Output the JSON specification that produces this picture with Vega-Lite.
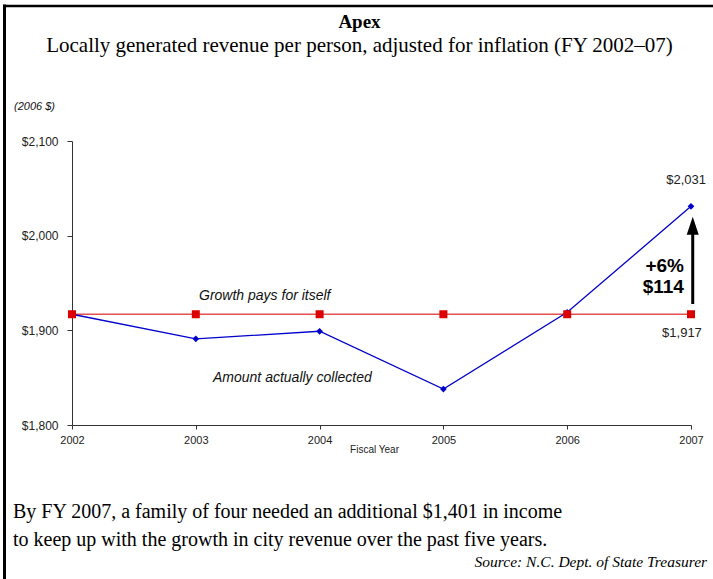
{
  "$schema": "https://vega.github.io/schema/vega-lite/v6.json",
  "width": 619,
  "height": 284,
  "autosize": "none",
  "padding": {"left": 72, "top": 141, "right": 22, "bottom": 154},
  "background": "white",
  "config": {"view": {"stroke": null}, "font": "Liberation Sans"},
  "title": {
    "text": "Apex",
    "subtitle": "Locally generated revenue per person, adjusted for inflation (FY 2002–07)",
    "anchor": "middle",
    "frame": "group",
    "dx": -22,
    "offset": -53,
    "font": "Liberation Serif",
    "fontSize": 19,
    "fontWeight": "bold",
    "color": "black",
    "subtitleFont": "Liberation Serif",
    "subtitleFontSize": 21,
    "subtitleColor": "black",
    "subtitlePadding": 3
  },
  "datasets": {
    "revenue": [
      {"year": 2002, "series": "Growth pays for itself", "value": 1917},
      {"year": 2003, "series": "Growth pays for itself", "value": 1917},
      {"year": 2004, "series": "Growth pays for itself", "value": 1917},
      {"year": 2005, "series": "Growth pays for itself", "value": 1917},
      {"year": 2006, "series": "Growth pays for itself", "value": 1917},
      {"year": 2007, "series": "Growth pays for itself", "value": 1917},
      {"year": 2002, "series": "Amount actually collected", "value": 1917},
      {"year": 2003, "series": "Amount actually collected", "value": 1891},
      {"year": 2004, "series": "Amount actually collected", "value": 1899},
      {"year": 2005, "series": "Amount actually collected", "value": 1838},
      {"year": 2006, "series": "Amount actually collected", "value": 1919},
      {"year": 2007, "series": "Amount actually collected", "value": 2031}
    ]
  },
  "data": {"name": "revenue"},
  "layer": [
    {
      "transform": [{"filter": "datum.series === 'Growth pays for itself'"}],
      "mark": {"type": "line", "color": "#e25050", "strokeWidth": 1.6},
      "encoding": {
        "x": {
          "field": "year", "type": "quantitative",
          "scale": {"domain": [2002, 2007], "nice": false, "zero": false},
          "axis": {
            "values": [2002, 2003, 2004, 2005, 2006, 2007],
            "format": "d", "grid": false, "labelFlush": false,
            "labelFont": "Liberation Sans", "labelFontSize": 11, "labelColor": "#222",
            "labelPadding": 5, "tickSize": 4, "tickColor": "#333", "domainColor": "#333",
            "title": "Fiscal Year", "titleFont": "Liberation Sans", "titleFontSize": 10,
            "titleFontWeight": "normal", "titleColor": "#222", "titleX": 302, "titleY": 19
          }
        },
        "y": {
          "field": "value", "type": "quantitative",
          "scale": {"domain": [1800, 2100], "nice": false, "zero": false},
          "axis": {
            "values": [1800, 1900, 2000, 2100],
            "format": "$,d", "grid": false, "labelFlush": false,
            "labelFont": "Liberation Sans", "labelFontSize": 12, "labelColor": "#222",
            "labelPadding": 9, "tickSize": 5, "tickColor": "#333", "domainColor": "#333",
            "title": null
          }
        }
      }
    },
    {
      "transform": [{"filter": "datum.series === 'Amount actually collected'"}],
      "mark": {"type": "line", "color": "#0000cc", "strokeWidth": 1.3},
      "encoding": {
        "x": {"field": "year", "type": "quantitative"},
        "y": {"field": "value", "type": "quantitative"}
      }
    },
    {
      "transform": [{"filter": "datum.series === 'Amount actually collected'"}],
      "mark": {"type": "point", "shape": "diamond", "filled": true, "opacity": 1, "color": "#0000cc", "size": 45},
      "encoding": {
        "x": {"field": "year", "type": "quantitative"},
        "y": {"field": "value", "type": "quantitative"}
      }
    },
    {
      "transform": [{"filter": "datum.series === 'Growth pays for itself'"}],
      "mark": {"type": "point", "shape": "square", "filled": true, "opacity": 1, "color": "#dd0000", "size": 64},
      "encoding": {
        "x": {"field": "year", "type": "quantitative"},
        "y": {"field": "value", "type": "quantitative"}
      }
    },
    {
      "data": {"values": [{}]},
      "mark": {"type": "rule", "color": "black", "strokeWidth": 3},
      "encoding": {
        "x": {"datum": 2001.4548, "type": "quantitative"},
        "y": {"datum": 2244.2, "type": "quantitative"},
        "y2": {"datum": 1637}
      }
    },
    {
      "data": {"values": [{}]},
      "mark": {"type": "rule", "color": "black", "strokeWidth": 2.5},
      "encoding": {
        "x": {"datum": 2001.443, "type": "quantitative"},
        "x2": {"datum": 2007.18},
        "y": {"datum": 2242.6, "type": "quantitative"}
      }
    },
    {
      "data": {"values": [{}]},
      "mark": {"type": "rule", "color": "black", "strokeWidth": 3},
      "encoding": {
        "x": {"datum": 2007.014, "type": "quantitative"},
        "y": {"datum": 1927.8, "type": "quantitative"},
        "y2": {"datum": 2006}
      }
    },
    {
      "data": {"values": [{}]},
      "mark": {"type": "point", "shape": "M0,-1L0.667,1L-0.667,1Z", "filled": true, "opacity": 1, "color": "black", "size": 324},
      "encoding": {
        "x": {"datum": 2007.014, "type": "quantitative"},
        "y": {"datum": 2010.5, "type": "quantitative"}
      }
    },
    {
      "data": {"values": [{}]},
      "mark": {"type": "text", "text": "$2,031", "font": "Liberation Sans", "fontSize": 13, "color": "#222", "align": "center", "baseline": "middle"},
      "encoding": {
        "x": {"datum": 2006.96, "type": "quantitative"},
        "y": {"datum": 2058.8, "type": "quantitative"}
      }
    },
    {
      "data": {"values": [{}]},
      "mark": {"type": "text", "text": "$1,917", "font": "Liberation Sans", "fontSize": 13, "color": "#222", "align": "center", "baseline": "middle"},
      "encoding": {
        "x": {"datum": 2006.927, "type": "quantitative"},
        "y": {"datum": 1897.2, "type": "quantitative"}
      }
    },
    {
      "data": {"values": [{}]},
      "mark": {"type": "text", "text": "+6%", "font": "Liberation Sans", "fontSize": 19, "fontWeight": "bold", "color": "black", "align": "right", "baseline": "middle"},
      "encoding": {
        "x": {"datum": 2006.943, "type": "quantitative"},
        "y": {"datum": 1967.96, "type": "quantitative"}
      }
    },
    {
      "data": {"values": [{}]},
      "mark": {"type": "text", "text": "$114", "font": "Liberation Sans", "fontSize": 19, "fontWeight": "bold", "color": "black", "align": "right", "baseline": "middle"},
      "encoding": {
        "x": {"datum": 2006.943, "type": "quantitative"},
        "y": {"datum": 1945.8, "type": "quantitative"}
      }
    },
    {
      "data": {"values": [{}]},
      "mark": {"type": "text", "text": "Growth pays for itself", "font": "Liberation Sans", "fontSize": 14, "fontStyle": "italic", "color": "#111", "align": "left", "baseline": "middle"},
      "encoding": {
        "x": {"datum": 2003.026, "type": "quantitative"},
        "y": {"datum": 1936.3, "type": "quantitative"}
      }
    },
    {
      "data": {"values": [{}]},
      "mark": {"type": "text", "text": "Amount actually collected", "font": "Liberation Sans", "fontSize": 14, "fontStyle": "italic", "color": "#111", "align": "left", "baseline": "middle"},
      "encoding": {
        "x": {"datum": 2003.139, "type": "quantitative"},
        "y": {"datum": 1850.0, "type": "quantitative"}
      }
    },
    {
      "data": {"values": [{}]},
      "mark": {"type": "text", "text": "(2006 $)", "font": "Liberation Sans", "fontSize": 11, "fontStyle": "italic", "color": "#111", "align": "left", "baseline": "middle"},
      "encoding": {
        "x": {"datum": 2001.5315, "type": "quantitative"},
        "y": {"datum": 2136.2, "type": "quantitative"}
      }
    },
    {
      "data": {"values": [{}]},
      "mark": {"type": "text", "text": "By FY 2007, a family of four needed an additional $1,401 in income", "font": "Liberation Serif", "fontSize": 20, "color": "black", "align": "left", "baseline": "middle"},
      "encoding": {
        "x": {"datum": 2001.5234, "type": "quantitative"},
        "y": {"datum": 1708.1, "type": "quantitative"}
      }
    },
    {
      "data": {"values": [{}]},
      "mark": {"type": "text", "text": "to keep up with the growth in city revenue over the past five years.", "font": "Liberation Serif", "fontSize": 20, "color": "black", "align": "left", "baseline": "middle"},
      "encoding": {
        "x": {"datum": 2001.5234, "type": "quantitative"},
        "y": {"datum": 1678.5, "type": "quantitative"}
      }
    },
    {
      "data": {"values": [{}]},
      "mark": {"type": "text", "text": "Source: N.C. Dept. of State Treasurer", "font": "Liberation Serif", "fontSize": 15.5, "fontStyle": "italic", "color": "black", "align": "right", "baseline": "middle"},
      "encoding": {
        "x": {"datum": 2007.13, "type": "quantitative"},
        "y": {"datum": 1655.0, "type": "quantitative"}
      }
    }
  ]
}
